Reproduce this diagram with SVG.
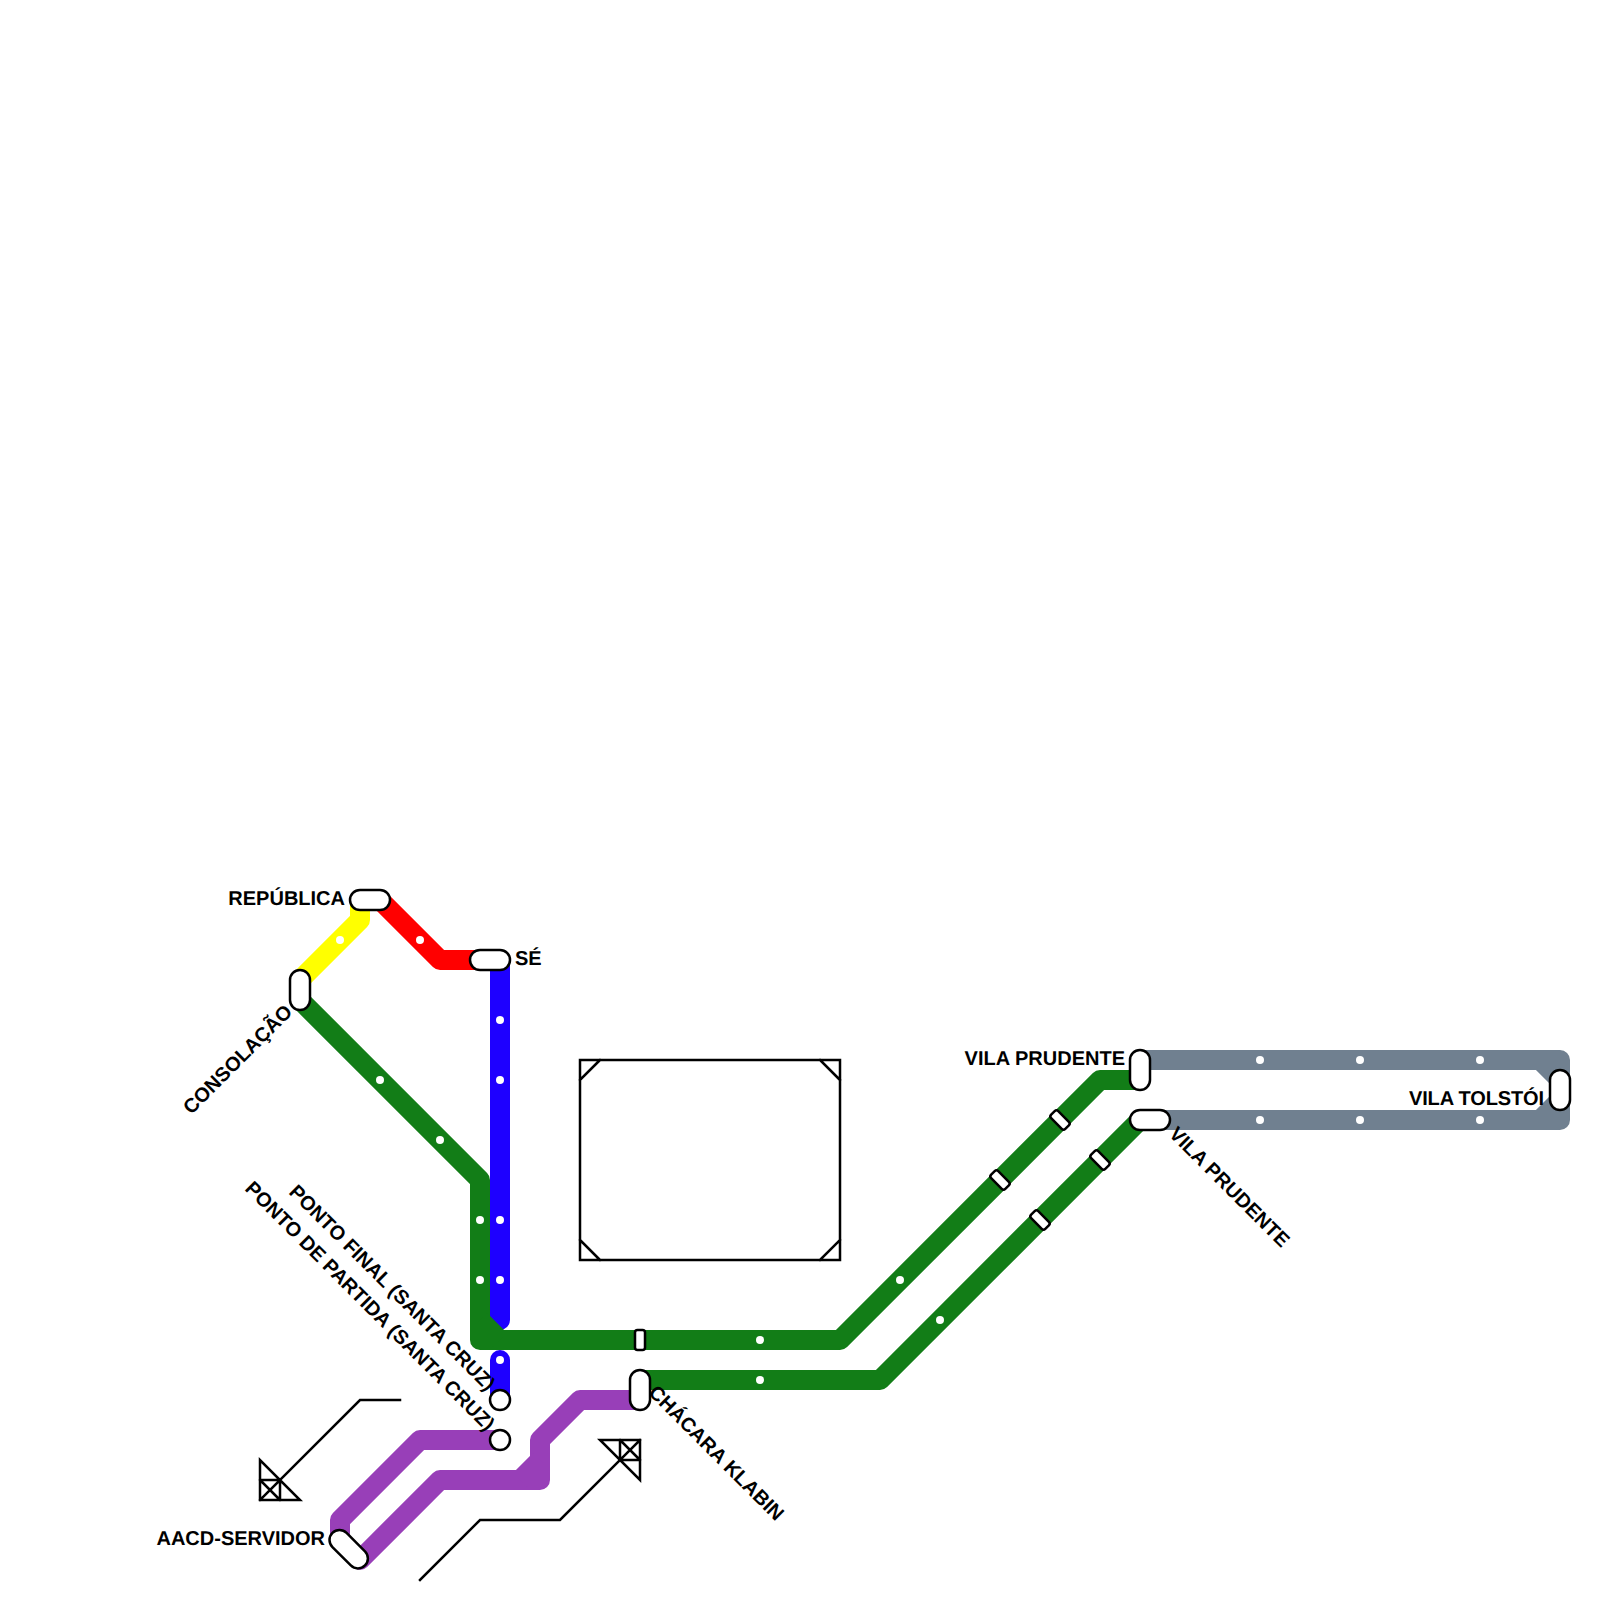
<svg xmlns="http://www.w3.org/2000/svg" width="1600" height="1600" viewBox="0 0 1600 1600">
<style>
.l{fill:none;stroke-width:20;stroke-linejoin:round;stroke-linecap:round}
.b{fill:none;stroke-width:20;stroke-linejoin:round;stroke-linecap:butt}
.st{fill:#fff;stroke:#000;stroke-width:2.5}
.t{font-family:"Liberation Sans",Arial,sans-serif;font-weight:700;font-size:20px;fill:#000;text-rendering:geometricPrecision}
.e{text-anchor:end}
.thin{fill:none;stroke:#000;stroke-width:2.5;stroke-linejoin:miter;stroke-linecap:square}
.d{fill:#fff}
</style>
<rect width="1600" height="1600" fill="#fff"/>
<g id="facilities">
<path class="thin" d="M580 1060H840V1260H580ZM580 1080L600 1060M820 1060L840 1080M580 1240L600 1260M820 1260L840 1240"/>
<path class="thin" d="M400 1400H360L280 1480"/>
<path class="thin" d="M260 1460V1500H300ZM260 1480H280V1500M260 1480L280 1500M280 1480L260 1500"/>
<path class="thin" d="M420 1580L480 1520H560L620 1460"/>
<path class="thin" d="M600 1440H640V1480ZM620 1440V1460H640M620 1440L640 1460M640 1440L620 1460"/>
</g>
<g id="connectors">
<path class="l" stroke="#ffff00" d="M360 900V920L300 980"/>
<path class="l" stroke="#ff0000" d="M380 900L440 960H500"/>
<path class="l" stroke="#1e00ff" d="M500 960V1320"/>
<path class="l" stroke="#1e00ff" d="M500 1360V1400"/>
<path class="l" stroke="#127d17" d="M300 1000L480 1180V1340H840L1100 1080H1140"/>
<path class="b" stroke="#127d17" d="M480 1320L500 1340"/>
<path class="l" stroke="#127d17" d="M640 1380H880L1140 1120"/>
<path class="l" stroke="#708090" d="M1140 1060H1560V1090"/>
<path class="b" stroke="#708090" d="M1540 1060L1560 1080"/>
<path class="l" stroke="#708090" d="M1150 1120H1560V1090"/>
<path class="b" stroke="#708090" d="M1540 1120L1560 1100"/>
<path class="l" stroke="#983fb8" d="M340 1540V1520L420 1440H500"/>
<path class="l" stroke="#983fb8" d="M640 1400H580L540 1440V1480H440L360 1560"/>
<path class="b" stroke="#983fb8" d="M520 1480L540 1460"/>
</g>
<g id="stops" class="d">
<circle cx="340" cy="940" r="4"/><circle cx="420" cy="940" r="4"/>
<circle cx="500" cy="1020" r="4"/><circle cx="500" cy="1080" r="4"/><circle cx="500" cy="1220" r="4"/><circle cx="500" cy="1280" r="4"/><circle cx="500" cy="1360" r="4"/>
<circle cx="380" cy="1080" r="4"/><circle cx="440" cy="1140" r="4"/><circle cx="480" cy="1220" r="4"/><circle cx="480" cy="1280" r="4"/>
<circle cx="760" cy="1340" r="4"/><circle cx="900" cy="1280" r="4"/><circle cx="760" cy="1380" r="4"/><circle cx="940" cy="1320" r="4"/>
<circle cx="1260" cy="1060" r="4"/><circle cx="1360" cy="1060" r="4"/><circle cx="1480" cy="1060" r="4"/>
<circle cx="1260" cy="1120" r="4"/><circle cx="1360" cy="1120" r="4"/><circle cx="1480" cy="1120" r="4"/>
</g>
<g id="transfer-1"><rect class="st" x="635" y="1330" width="10" height="20" rx="2.5"/></g>
<g id="transfer-2"><rect class="st" x="1055" y="1110" width="10" height="20" rx="2.5" transform="rotate(-45 1060 1120)"/></g>
<g id="transfer-3"><rect class="st" x="995" y="1170" width="10" height="20" rx="2.5" transform="rotate(-45 1000 1180)"/></g>
<g id="transfer-4"><rect class="st" x="1095" y="1150" width="10" height="20" rx="2.5" transform="rotate(-45 1100 1160)"/></g>
<g id="transfer-5"><rect class="st" x="1035" y="1210" width="10" height="20" rx="2.5" transform="rotate(-45 1040 1220)"/></g>
<g id="republica"><rect class="st" x="350" y="890" width="40" height="20" rx="10"/><text class="t e" x="345" y="905">REPÚBLICA</text></g>
<g id="se"><rect class="st" x="470" y="950" width="40" height="20" rx="10"/><text class="t" x="515" y="965">SÉ</text></g>
<g id="consolacao"><rect class="st" x="290" y="970" width="20" height="40" rx="10"/><text class="t e" transform="translate(293.5 1013) rotate(-45)">CONSOLAÇÃO</text></g>
<g id="ponto-final"><circle class="st" cx="500" cy="1400" r="10"/><text class="t e" transform="translate(487 1392) rotate(45)">PONTO FINAL (SANTA CRUZ)</text></g>
<g id="ponto-partida"><circle class="st" cx="500" cy="1440" r="10"/><text class="t e" transform="translate(486.5 1432) rotate(45)">PONTO DE PARTIDA (SANTA CRUZ)</text></g>
<g id="aacd"><rect class="st" x="325.7" y="1539.2" width="46" height="20" rx="10" transform="rotate(45 348.7 1549.2)"/><text class="t e" x="325" y="1545">AACD-SERVIDOR</text></g>
<g id="chacara"><rect class="st" x="630" y="1370" width="20" height="40" rx="10"/><text class="t" transform="translate(647.5 1393.5) rotate(45)">CHÁCARA KLABIN</text></g>
<g id="vila-prudente-1"><rect class="st" x="1130" y="1050" width="20" height="40" rx="10"/><text class="t e" x="1125" y="1065">VILA PRUDENTE</text></g>
<g id="vila-prudente-2"><rect class="st" x="1130" y="1110" width="40" height="20" rx="10"/><text class="t" transform="translate(1168 1135) rotate(45)">VILA PRUDENTE</text></g>
<g id="vila-tolstoi"><rect class="st" x="1550" y="1070" width="20" height="40" rx="10"/><text class="t e" x="1544" y="1105" textLength="135" lengthAdjust="spacing">VILA TOLSTÓI</text></g>
</svg>
